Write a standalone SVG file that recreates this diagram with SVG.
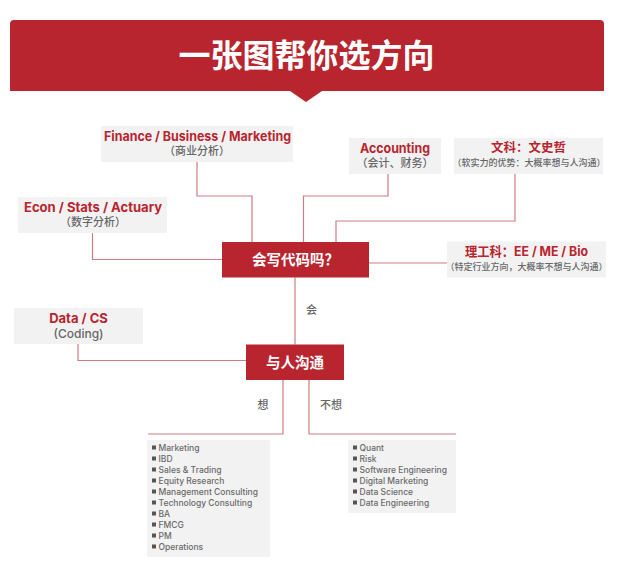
<svg xmlns="http://www.w3.org/2000/svg" width="623" height="575" viewBox="0 0 623 575">
<style>
text{font-family:"Inter","Noto Sans CJK SC","Noto Sans",sans-serif;text-anchor:middle}
.box{fill:#f2f2f3}
.red{fill:#b9252e}
.h{fill:#b9252e;font-size:13px;font-weight:700}
.s{fill:#666;font-size:11px;font-weight:500}
.xs{fill:#666;font-size:9px;font-weight:500}
.k{fill:#fff;font-size:14.500px;font-weight:700}
.e{fill:#666;font-size:11px;font-weight:500}
.li{fill:#6a6a6a;font-size:8.500px;font-weight:500;text-anchor:start}
.c{fill:none;stroke:#cd7d83;stroke-width:1.2}
</style>
<rect width="623" height="575" fill="#fff"/>
<g id="banner">
<path class="red" d="M10 24Q10 20 14 20H600Q604 20 604 24V91H322L306 102L290 91H10Z"/>
<text x="306.500" y="67" fill="#fff" font-size="32" font-weight="700">一张图帮你选方向</text>
</g>
<g id="connectors">
<path class="c" d="M197 162V196H252V242"/>
<path class="c" d="M92.500 233V259.500H222"/>
<path class="c" d="M388 174V196H303.500V242"/>
<path class="c" d="M515 174V221H336V242"/>
<path class="c" d="M369 263H447"/>
<path class="c" d="M295 277.500V344.500"/>
<path class="c" d="M78 344V360.500H246"/>
<path class="c" d="M283 380V434H148"/>
<path class="c" d="M309 380V434H456"/>
</g>
<g id="finance"><rect class="box" x="101" y="126" width="192" height="36"/>
<text class="h" x="197.500" y="141" textLength="187" lengthAdjust="spacingAndGlyphs">Finance / Business / Marketing</text><text class="s" x="197" y="155">（商业分析）</text></g>
<g id="econ"><rect class="box" x="18" y="197" width="149" height="36"/>
<text class="h" x="93" y="212" textLength="138" lengthAdjust="spacingAndGlyphs">Econ / Stats / Actuary</text><text class="s" x="93" y="226">（数字分析）</text></g>
<g id="accounting"><rect class="box" x="349" y="138" width="92" height="36"/>
<text class="h" x="395" y="153" textLength="70" lengthAdjust="spacingAndGlyphs">Accounting</text><text class="s" x="395" y="167">（会计、财务）</text></g>
<g id="humanities"><rect class="box" x="454" y="138" width="149" height="36"/>
<text class="h" x="528.500" y="152" style="font-size:12.500px">文科：文史哲</text><text class="xs" x="529" y="166">（软实力的优势：大概率想与人沟通）</text></g>
<g id="engineering"><rect class="box" x="447" y="241.500" width="159" height="36"/>
<text class="h" x="526.500" y="256" textLength="123" lengthAdjust="spacingAndGlyphs">理工科：EE / ME / Bio</text><text class="xs" x="526.500" y="270">（特定行业方向，大概率不想与人沟通）</text></g>
<g id="code"><rect class="red" x="222" y="242" width="147" height="35.500"/>
<text class="k" x="295.500" y="265">会写代码吗？</text></g>
<g id="data"><rect class="box" x="14" y="308" width="129" height="36"/>
<text class="h" x="78.500" y="323">Data / CS</text><text class="s" x="78.500" y="338" style="font-size:12px">(Coding)</text></g>
<g id="communicate"><rect class="red" x="246" y="344.500" width="98" height="35.500"/>
<text class="k" x="295" y="368">与人沟通</text></g>
<g id="edge-labels">
<text class="e" x="311.500" y="314">会</text>
<text class="e" x="263" y="409">想</text>
<text class="e" x="331" y="409">不想</text>
</g>
<g id="list-yes"><rect class="box" x="147" y="440" width="123" height="117"/>
<g fill="#555"><rect x="152" y="445.500" width="4" height="4"/><rect x="152" y="456.500" width="4" height="4"/><rect x="152" y="467.500" width="4" height="4"/><rect x="152" y="478.500" width="4" height="4"/><rect x="152" y="489.500" width="4" height="4"/><rect x="152" y="500.500" width="4" height="4"/><rect x="152" y="511.500" width="4" height="4"/><rect x="152" y="522.500" width="4" height="4"/><rect x="152" y="533.500" width="4" height="4"/><rect x="152" y="544.500" width="4" height="4"/></g>
<text class="li" x="158.500" y="450.500">Marketing</text>
<text class="li" x="158.500" y="461.500">IBD</text>
<text class="li" x="158.500" y="472.500">Sales &amp; Trading</text>
<text class="li" x="158.500" y="483.500">Equity Research</text>
<text class="li" x="158.500" y="494.500">Management Consulting</text>
<text class="li" x="158.500" y="505.500">Technology Consulting</text>
<text class="li" x="158.500" y="516.500">BA</text>
<text class="li" x="158.500" y="527.500">FMCG</text>
<text class="li" x="158.500" y="538.500">PM</text>
<text class="li" x="158.500" y="549.500">Operations</text>
</g>
<g id="list-no"><rect class="box" x="348" y="440" width="108" height="73"/>
<g fill="#555"><rect x="353" y="445.500" width="4" height="4"/><rect x="353" y="456.500" width="4" height="4"/><rect x="353" y="467.500" width="4" height="4"/><rect x="353" y="478.500" width="4" height="4"/><rect x="353" y="489.500" width="4" height="4"/><rect x="353" y="500.500" width="4" height="4"/></g>
<text class="li" x="359.500" y="450.500">Quant</text>
<text class="li" x="359.500" y="461.500">Risk</text>
<text class="li" x="359.500" y="472.500">Software Engineering</text>
<text class="li" x="359.500" y="483.500">Digital Marketing</text>
<text class="li" x="359.500" y="494.500">Data Science</text>
<text class="li" x="359.500" y="505.500">Data Engineering</text>
</g>
</svg>
